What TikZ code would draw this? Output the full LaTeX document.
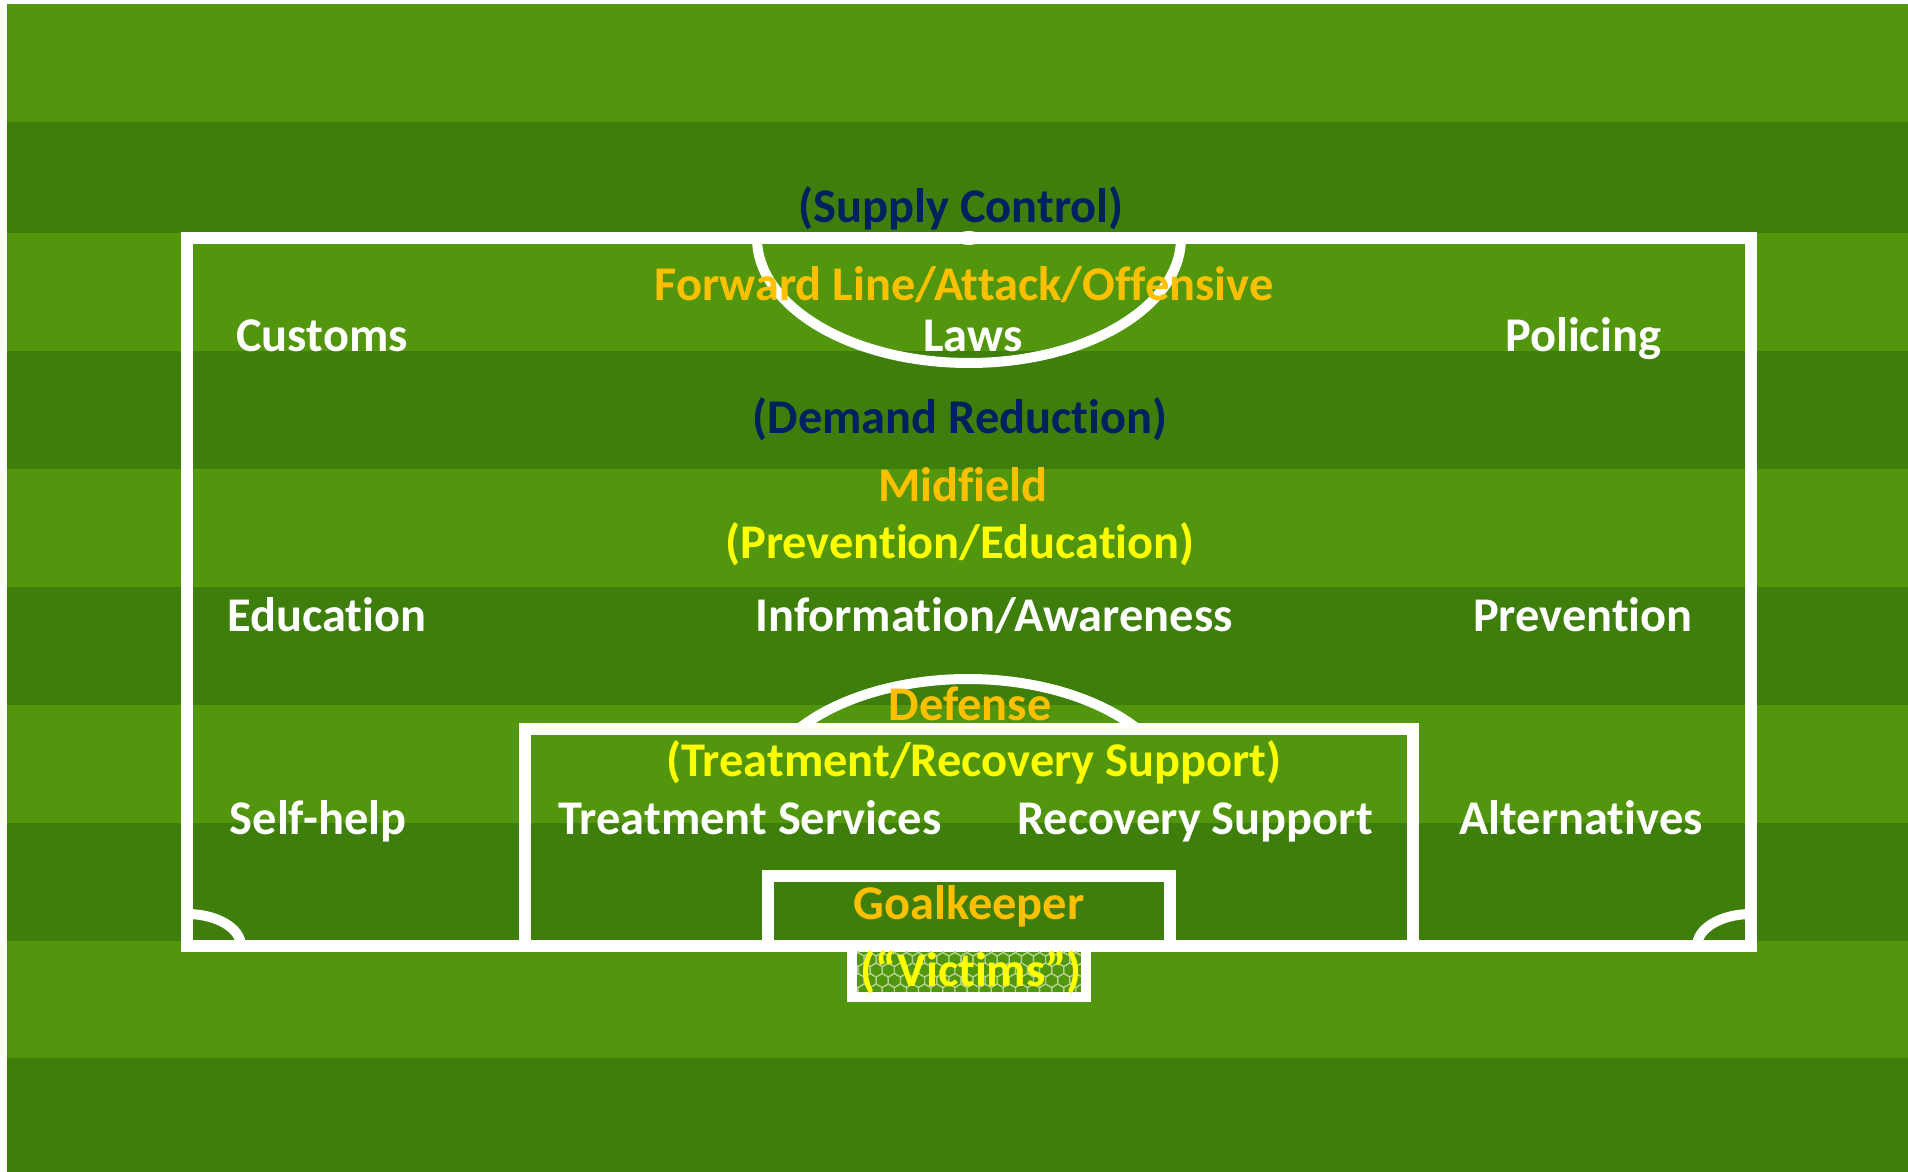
\documentclass[tikz,border=0pt]{standalone}
\usepackage{fontspec}
\setmainfont{Carlito}[Ligatures={NoCommon,NoContextual,NoRequired}, Contextuals=NoAlternate]
\usepackage{tikz}
\usepackage{tkz-euclide}

\definecolor{grasslight}{HTML}{52960E}
\definecolor{grassdark}{HTML}{3E7E0B}
\definecolor{supplyblue}{HTML}{002060}
\definecolor{rolegold}{HTML}{FFC000}
\definecolor{dutyyellow}{HTML}{FFFF00}

\begin{document}
\begin{tikzpicture}[x=0.5pt, y=-0.5pt,
    pitchline/.style={white, line width=6pt, line cap=rect},
    netframe/.style={white, line width=5pt, line cap=rect},
    arcline/.style={white, line width=5pt},
    netline/.style={white!55!grasslight, line width=0.6pt},
    txt/.style={font=\fontsize{24.2}{28}\selectfont\bfseries, anchor=base, inner sep=0pt},
    role/.style={txt, rolegold},
    side/.style={txt, supplyblue},
    duty/.style={txt, dutyyellow},
    task/.style={txt, white}]
    \useasboundingbox (0,0) rectangle (1908,1172);
    \fill[white] (0,0) rectangle (1908,1172);
    \foreach \a/\b/\c in {4/122/grasslight, 122/233/grassdark, 233/351/grasslight,
        351/469/grassdark, 469/587/grasslight, 587/705/grassdark, 705/823/grasslight,
        823/941/grassdark, 941/1058/grasslight, 1058/1172/grassdark}
        \fill[\c] (7,\a) rectangle (1908,\b);

    \tkzDefPoint(187,238){A}
    \tkzDefPoint(1751,238){B}
    \tkzDefPoint(1751,946){C}
    \tkzDefPoint(187,946){D}
    \tkzDrawSegments[pitchline](A,B B,C C,D D,A)

    \tkzDefPoint(525,946){E}
    \tkzDefPoint(525,729){F}
    \tkzDefPoint(1413,729){G}
    \tkzDefPoint(1413,946){H}
    \tkzDrawSegments[pitchline](E,F F,G G,H)

    \tkzDefPoint(768,946){I}
    \tkzDefPoint(768,876){J}
    \tkzDefPoint(1170,876){K}
    \tkzDefPoint(1170,946){L}
    \tkzDrawSegments[pitchline](I,J J,K K,L)

    \tkzDefPoint(852,949){M}
    \tkzDefPoint(852,997){N}
    \tkzDefPoint(1086,997){O}
    \tkzDefPoint(1086,949){P}
    \begin{scope}
        \clip (857,951) rectangle (1081,992);
        \foreach \r in {0,...,4}
            \foreach \c in {0,...,20} {
                \pgfmathsetmacro\hx{852+12.1*\c+6.05*mod(\r,2)}
                \pgfmathsetmacro\hy{949+10.5*\r}
                \draw[netline] (\hx,\hy) +(0,-7) -- +(6.05,-3.5) -- +(6.05,3.5)
                    -- +(0,7) -- +(-6.05,3.5) -- +(-6.05,-3.5) -- cycle;
            }
    \end{scope}
    \tkzDrawSegments[netframe](M,N N,O O,P)

    \tkzDefPoint(757,238){S}
    \draw[arcline] (S) arc[start angle=180, end angle=360, x radius=106pt, y radius=62.5pt];
    \fill[white] (969,238) ellipse [x radius=6.5pt, y radius=3.5pt];
    \tkzDefPoint(798.4,729){T}
    \draw[arcline] (T) arc[start angle=143.13, end angle=36.87, x radius=106pt, y radius=62.5pt];
    \tkzDefPoint(187,914){U}
    \draw[arcline] (U) arc[start angle=90, end angle=0, x radius=27pt, y radius=16pt];
    \tkzDefPoint(1697,946){V}
    \draw[arcline] (V) arc[start angle=180, end angle=90, x radius=27pt, y radius=16pt];

    \node[side] (supply) at (961,222) {(Supply Control)};
    \node[role] (forward) at (964,300) {Forward Line/Attack/Offensive};
    \node[task] (customs) at (322,351) {Customs};
    \node[task] (laws) at (973,351) {Laws};
    \node[task] (policing) at (1583,351) {Policing};
    \node[side] (demand) at (960,433) {(Demand Reduction)};
    \node[role] (midfield) at (963,501) {Midfield};
    \node[duty] (prevedu) at (960,558) {(Prevention/Education)};
    \node[task] (education) at (327,631) {Education};
    \node[task] (info) at (994,631) {Information/Awareness};
    \node[task] (prevention) at (1583,631) {Prevention};
    \node[role] (defense) at (970,720) {Defense};
    \node[duty] (treatrec) at (974,776) {(Treatment/Recovery Support)};
    \node[task] (selfhelp) at (318,834) {Self-help};
    \node[task] (treatment) at (750,834) {Treatment Services};
    \node[task] (recovery) at (1195,834) {Recovery Support};
    \node[task] (alternatives) at (1581,834) {Alternatives};
    \node[role] (keeper) at (969,919) {Goalkeeper};
    \node[duty] (victims) at (971,986) {(“Victims”)};
\end{tikzpicture}
\end{document}
